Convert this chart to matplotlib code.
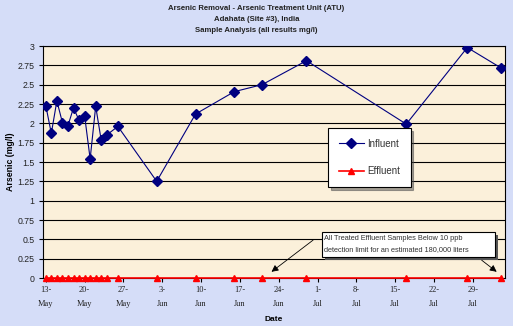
import numpy as np
import pandas as pd
import matplotlib
matplotlib.use("Agg")
import matplotlib.pyplot as plt
from matplotlib.patches import Rectangle

# sample dates (2003 season)
dates = pd.to_datetime([
    "2003-05-13", "2003-05-14", "2003-05-15", "2003-05-16", "2003-05-17",
    "2003-05-18", "2003-05-19", "2003-05-20", "2003-05-21", "2003-05-22",
    "2003-05-23", "2003-05-24", "2003-05-26", "2003-06-02", "2003-06-09",
    "2003-06-16", "2003-06-21", "2003-06-29", "2003-07-17", "2003-07-28",
    "2003-08-03",
])
influent = [2.23, 1.87, 2.29, 2.01, 1.97, 2.20, 2.04, 2.10, 1.54, 2.22,
            1.78, 1.85, 1.96, 1.25, 2.12, 2.41, 2.50, 2.81, 1.99, 2.98, 2.72]
effluent = [0.0] * len(dates)

tick_dates = pd.date_range("2003-05-13", "2003-07-29", freq="7D")
y_ticks = [0, 0.25, 0.5, 0.75, 1, 1.25, 1.5, 1.75, 2, 2.25, 2.5, 2.75, 3]

titles = ["Arsenic Removal - Arsenic Treatment Unit (ATU)",
          "Adahata (Site #3), India",
          "Sample Analysis (all results mg/l)"]
note = ("All Treated Effluent Samples Below 10 ppb\n"
        "detection limit for an estimated 180,000 liters")

bg = "#D5DDF8"
plot_bg = "#FBF0DA"
sans = "Liberation Sans"

fig = plt.figure(figsize=(5.13, 3.26), dpi=100, facecolor=bg)
ax = fig.add_axes([43 / 513, 1 - 278 / 326, 462 / 513, 232 / 326])
ax.set_facecolor(plot_bg)

for i, t in enumerate(titles):
    fig.text(0.5, 1 - (8 + 11.5 * i) / 326, t, ha="center", va="center",
             fontsize=5.6, fontweight="bold", family=sans, color="#222222")

for v in y_ticks[1:]:
    ax.axhline(v, color="black", lw=0.8, zorder=1)

ax.plot(dates, influent, color="#000080", lw=0.8, marker="D", ms=4.8,
        mfc="#000080", mec="#000080", zorder=3, label="Influent")
ax.plot(dates, effluent, color="red", lw=1.2, marker="^", ms=5,
        mfc="red", mec="red", zorder=4, clip_on=False, label="Effluent")

start = dates[0]
day = lambda d: start + pd.Timedelta(days=d)
ax.set_xlim(day(-0.5), day(82.8))
ax.set_ylim(0, 3)
ax.set_yticks(y_ticks)
ax.set_yticklabels([f"{v:g}" for v in y_ticks], fontsize=6.3, family=sans,
                   color="#222222")
ax.set_xticks(tick_dates)
ax.set_xticklabels([d.strftime("%-d-\n%b") for d in tick_dates],
                   fontsize=6, family="Liberation Serif", linespacing=1.9,
                   color="#222222")
ax.tick_params(axis="both", length=3, width=0.8, pad=3)

for s in ax.spines.values():
    s.set_color("black")
    s.set_linewidth(0.8)

ax.set_ylabel("Arsenic (mg/l)", fontsize=6.3, fontweight="bold", family=sans)
ax.yaxis.set_label_coords(-0.071, 0.5)
ax.yaxis.label.set_va("center")
ax.set_xlabel("Date", fontsize=6, fontweight="bold", family=sans)
ax.xaxis.set_label_coords(0.5, -0.177)
ax.xaxis.label.set_va("center")

leg = ax.legend(loc="upper left", bbox_to_anchor=(0.617, 0.647), frameon=True,
                fancybox=False, shadow=True, framealpha=1,
                prop={"family": sans, "size": 7}, handlelength=2.6,
                labelspacing=1.8, borderpad=1.1, handletextpad=0.3,
                borderaxespad=0)
leg.get_frame().set_edgecolor("black")
leg.get_frame().set_linewidth(0.8)
for t in leg.get_texts():
    t.set_color("#333333")

# note box with a drop shadow
bx0, bx1 = (321.7 - 43) / 462, (495 - 43) / 462
by0, by1 = (278 - 256.7) / 232, (278 - 232.3) / 232
ax.add_patch(Rectangle((bx0 + 3 / 462, by0 - 3 / 232), bx1 - bx0, by1 - by0,
                       transform=ax.transAxes, fc="#555555", ec="none",
                       zorder=5))
ax.add_patch(Rectangle((bx0, by0), bx1 - bx0, by1 - by0,
                       transform=ax.transAxes, fc="white", ec="black",
                       lw=0.8, zorder=6))
ax.text((324.5 - 43) / 462, (278 - 244) / 232, note, transform=ax.transAxes,
        fontsize=5.35, family=sans, va="center", ha="left", linespacing=1.75,
        color="#333333", zorder=7)

arrow = dict(arrowstyle="-|>", color="black", lw=0.6, mutation_scale=10,
             shrinkA=0, shrinkB=0)
ax.annotate("", xy=(day(40.7), 0.08), xytext=(day(48.2), 0.49),
            arrowprops=arrow, zorder=5)
ax.annotate("", xy=(day(81.3), 0.08), xytext=(day(78.6), 0.23),
            arrowprops=arrow, zorder=5)

fig.savefig("out.png", dpi=100, facecolor=bg)
